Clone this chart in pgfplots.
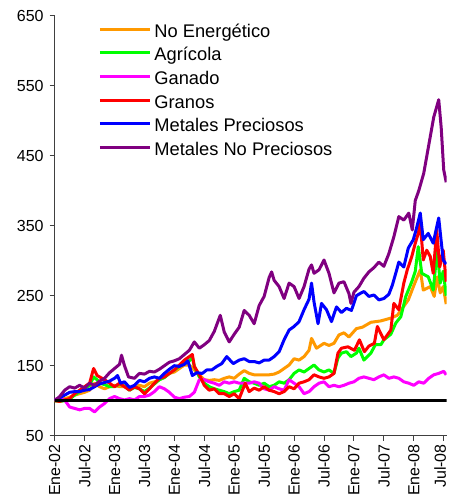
\documentclass[border=0pt]{standalone}
\usepackage{fontspec}
\setmainfont{Liberation Sans}
\usepackage{pgfplots}
\pgfplotsset{compat=1.18}
\definecolor{cNE}{RGB}{255,153,0}
\definecolor{cAG}{RGB}{0,255,0}
\definecolor{cGA}{RGB}{255,0,255}
\definecolor{cGR}{RGB}{255,0,0}
\definecolor{cMP}{RGB}{0,0,255}
\definecolor{cMNP}{RGB}{128,0,128}
\newcommand{\LS}{\rule[-6pt]{0pt}{23.7pt}}
\begin{document}
\begin{tikzpicture}
\begin{axis}[
 scale only axis, width=392pt, height=420pt,
 xmin=0, xmax=78.6, ymin=50, ymax=650,
 axis x line=bottom, axis y line=left,
 axis line style={-, black!75, line width=1pt},
 tick align=outside, major tick length=5pt,
 tick style={black!75, line width=1pt},
 xtick={0,6,...,78},
 xticklabels={Ene-02,Jul-02,Ene-03,Jul-03,Ene-04,Jul-04,Ene-05,Jul-05,Ene-06,Jul-06,Ene-07,Jul-07,Ene-08,{\raisebox{3.5pt}[\height][\depth]{Jul-08}}},
 xticklabel style={rotate=90, anchor=east, inner ysep=0pt},
 yticklabel style={xshift=-2.5pt},
 ytick={50,150,...,650},
 tick label style={font=\fontsize{16}{19}\selectfont},
 /pgf/number format/assume math mode=true,
 legend style={at={(rel axis cs:0.111,0.9912)}, anchor=north west, draw=none, fill=none,
   font=\fontsize{18.3}{23.7}\selectfont, row sep=4.4pt, column sep=3pt, inner sep=0pt,
   nodes={inner sep=0pt}},
 legend cell align=left,
 legend image code/.code={\draw[#1, line width=3pt] (0pt,0pt) -- (50pt,0pt);},
 every axis plot/.append style={line width=3pt, line join=round},
]
% No Energetico
\addplot[cNE] coordinates {(0,100)(1,101)(2,103)(3,105)(4,108)(5,110)(6,112)(7,115)(8,125)(9,120)(10,117)(11,120)(12,122)(13,120)(14,120)(15,117)(16,120)(17,122)(18,120)(19,125)(20,127)(21,130)(22,134)(23,139)(24,141)(25,146)(26,151)(27,151)(28,144)(29,137)(30,130)(31,129)(32,130)(33,129)(34,132)(35,134)(36,132)(37,138)(38,143)(39,139)(40,137)(41,137)(42,137)(43,137)(44,138)(45,141)(46,146)(47,151)(48,160)(49,158)(50,163)(51,172)(51.5,189)(52.5,175)(54,182)(55,179)(56,182)(57,194)(58,197)(59,191)(60.5,203)(61.7,205)(63.4,212)(65.4,214)(67.4,218)(68.7,222)(69.5,230)(70.9,244)(72.2,268)(73.3,287)(73.9,258)(75.3,263)(76.1,249)(76.7,277)(77.3,254)(77.9,263)(78.5,238)};
\addlegendentry{\LS No Energético}
% Agricola
\addplot[cAG] coordinates {(0,100)(1,99)(2,100)(3,102)(4,108)(5,113)(6,117)(7,122)(7.8,134)(8.5,130)(9,125)(10,123)(11,120)(12,120)(13,124)(14,121)(15,115)(16,119)(17,117)(18,113)(19,118)(20,124)(21,130)(22,133)(23,139)(24,144)(25,149)(26,153)(27,157)(27.6,162)(28,149)(29,134)(30,125)(31,120)(32,117)(33,115)(34,113)(35,110)(36,113)(37,115)(38,132)(39,127)(40,125)(41,122)(42,125)(43,120)(44,122)(45,127)(46,125)(47,130)(48,139)(49,144)(50,141)(51,146)(52,151)(53,144)(54,141)(55,144)(56,139)(56.8,161)(57.5,168)(58.5,170)(59.4,163)(60.5,168)(61,175)(62,158)(63.4,168)(64.3,180)(65.4,180)(66,187)(67.4,195)(68.4,211)(69.4,220)(70.4,249)(71.6,270)(72.3,285)(72.9,320)(73.6,282)(74.9,277)(75.9,258)(76.7,315)(77.3,268)(77.9,285)(78.5,250)};
\addlegendentry{\LS Agrícola}
% Ganado
\addplot[cGA] coordinates {(0,102)(1,103)(2,101)(3,91)(4,89)(5,87)(6,89)(7,89)(8,84)(9,91)(10,96)(11,103)(12,106)(13,103)(14,101)(15,103)(16,101)(17,106)(18,106)(19,108)(20,113)(21,120)(22,117)(23,112)(24,105)(25,103)(26,105)(27,106)(28,112)(29,130)(30,130)(31,127)(32,125)(33,122)(34,127)(35,125)(36,127)(37,125)(38,125)(39,125)(40,127)(41,125)(42,117)(43,115)(44,120)(45,117)(46,115)(47,130)(48,125)(49,120)(50,110)(51,113)(52,120)(53,125)(54,127)(55,120)(56,122)(57,120)(58,122)(59,125)(60,127)(61,132)(62,134)(63,132)(64,130)(65,134)(66,137)(67,132)(68,134)(69,132)(70,127)(71,125)(72,122)(73,127)(74,125)(75,132)(76,137)(77,139)(78,142)(78.5,137)};
\addlegendentry{\LS Ganado}
% Granos
\addplot[cGR] coordinates {(0,100)(1,99)(2,101)(3,103)(4,110)(5,115)(6,120)(7,125)(7.8,146)(8.5,136)(9,134)(10,130)(11,125)(12,120)(13,125)(14,120)(15,115)(16,120)(17,117)(18,110)(19,117)(20,125)(21,132)(22,134)(23,139)(24,144)(25,151)(26,158)(27,163)(27.6,166)(28,149)(29,137)(30,122)(31,115)(32,117)(33,110)(34,110)(35,106)(36,110)(37,103)(38.2,125)(39,113)(40,118)(41,115)(42,120)(43,115)(44,113)(45,110)(46,113)(47,120)(48,117)(49,125)(50,127)(51,130)(52,137)(53,134)(54,132)(55,134)(56,139)(56.8,168)(57.5,175)(58.8,177)(60.1,172)(61.1,187)(62.1,170)(63,178)(64.1,182)(64.7,206)(66,187)(67.4,201)(68,239)(69,230)(70,268)(70.7,287)(71.6,306)(72.3,325)(72.9,339)(73.3,354)(73.9,301)(74.6,315)(75.3,306)(75.9,282)(76.6,344)(77.2,291)(77.9,315)(78.5,270)};
\addlegendentry{\LS Granos}
% Metales Preciosos
\addplot[cMP] coordinates {(0,100)(1,104)(2,108)(3,112)(4,113)(5,113)(6,115)(7,116)(8,120)(9,124)(10,126)(11,128)(12,132)(12.6,136)(13.2,125)(14,127)(15,119)(16,122)(17,129)(18,127)(19,132)(20,134)(21,132)(22,139)(23,145)(24,150)(25,149)(26,152)(26.7,157)(27.6,136)(28.5,140)(29.6,139)(30.5,144)(31.5,144)(32.5,149)(33.5,153)(34.5,163)(35.8,153)(37,158)(38,160)(39,156)(40,156)(41,154)(42,158)(43,158)(44,163)(45,170)(46,187)(47,201)(48,206)(49,213)(50,230)(51,245)(51.5,268)(52,241)(52.8,210)(53.5,239)(54.5,230)(55.5,213)(56.5,234)(57.5,226)(58.5,232)(59.5,229)(60.5,250)(61.2,253)(62,256)(63,249)(64,251)(65,244)(66,246)(67,252)(67.7,265)(68.5,285)(69,298)(70,291)(70.9,318)(71.9,330)(72.5,345)(73.3,368)(73.9,330)(74.9,339)(75.9,325)(76.5,345)(77,361)(77.9,301)(78.5,295)};
\addlegendentry{\LS Metales Preciosos}
% Metales No Preciosos
\addplot[cMNP] coordinates {(0,100)(1,106)(2,115)(3,120)(4,118)(5,122)(6,118)(7,125)(8,122)(9,128)(10,132)(11,140)(12,146)(13,152)(13.4,165)(14,150)(14.8,134)(16,132)(17,139)(18,138)(19,142)(20,141)(21,145)(22,150)(23,155)(24,157)(25,160)(26,166)(27,172)(28,184)(29,175)(30,180)(31,186)(32,199)(33.2,222)(34,198)(35,184)(36,195)(37,205)(38,229)(39,222)(40,210)(41,236)(42,249)(43,276)(43.5,284)(44,272)(45,263)(46,246)(47,268)(48,263)(49,246)(50,263)(51,288)(51.5,294)(52,282)(53,287)(54,301)(55,282)(56,254)(57,268)(58,270)(59,253)(59.4,239)(60,255)(61,263)(62,275)(63,284)(64,290)(65,298)(66,292)(67,310)(68,334)(69,363)(70,358)(71,368)(71.7,344)(72.3,386)(73,400)(74,425)(75,465)(76,505)(77,530)(77.5,490)(78,430)(78.5,412)};
\addlegendentry{\LS Metales No Preciosos}
% reference line at 100
\addplot[black, line width=3pt, forget plot] coordinates {(0,100)(78.6,100)};
\coordinate (bbsw) at (rel axis cs:-0.1395,-0.1507);
\coordinate (bbne) at (rel axis cs:1.0084,1.0374);
\end{axis}
\pgfresetboundingbox
\path[use as bounding box] (bbsw) rectangle (bbne);
\end{tikzpicture}
\end{document}
